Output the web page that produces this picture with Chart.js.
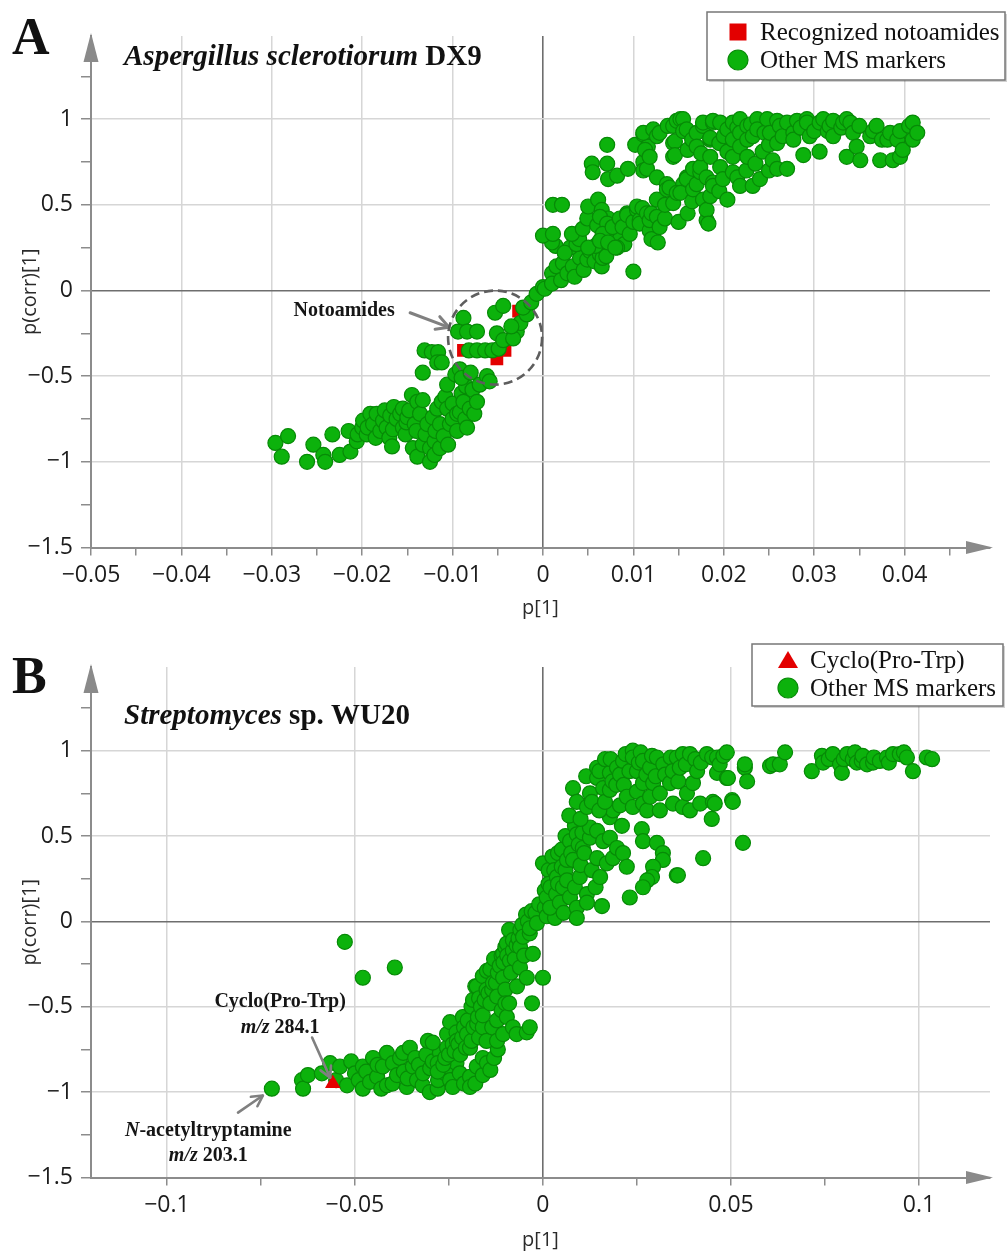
<!DOCTYPE html>
<html><head><meta charset="utf-8">
<script src="https://cdn.jsdelivr.net/npm/chart.js@4.4.1/dist/chart.umd.min.js"></script>
<style>
html,body{margin:0;padding:0;background:#fff;}
#wrap{position:relative;width:1008px;height:1253px;overflow:hidden;}
canvas{position:absolute;left:0;}
#ca{top:0;} #cb{top:626px;}
</style></head><body>
<div id="wrap"><canvas id="ca" width="1008" height="626"></canvas><canvas id="cb" width="1008" height="627"></canvas></div>
<script>
// ---------------- DATA ----------------
const aOther = [
[-0.0296,-0.89],[-0.0282,-0.85],[-0.0289,-0.97],[-0.0261,-1.0],[-0.0254,-0.90],[-0.0233,-0.84],[-0.0243,-0.96],[-0.0241,-1.0],[-0.0225,-0.96],[-0.0213,-0.94],[-0.0215,-0.82],[-0.0206,-0.88],[-0.0205,-0.84],[-0.0200,-0.80],[-0.0199,-0.76],[-0.0195,-0.84],[-0.0194,-0.80],[-0.0191,-0.72],[-0.0188,-0.78],[-0.0185,-0.86],[-0.0184,-0.72],[-0.0180,-0.82],[-0.0177,-0.76],[-0.0175,-0.70],[-0.0173,-0.80],[-0.0170,-0.86],[-0.0169,-0.73],[-0.0167,-0.91],[-0.0166,-0.81],[-0.0165,-0.68],[-0.0162,-0.75],[-0.0158,-0.72],[-0.0155,-0.69],[-0.0155,-0.80],[-0.0152,-0.84],[-0.0151,-0.77],[-0.0150,-0.74],[-0.0148,-0.70],[-0.0145,-0.61],[-0.0144,-0.92],[-0.0142,-0.78],[-0.0140,-0.82],[-0.0139,-0.65],[-0.0139,-0.97],[-0.0136,-0.72],[-0.0133,-0.64],[-0.0133,-0.90],[-0.0130,-0.84],[-0.0128,-0.78],[-0.0125,-1.0],[-0.0125,-0.92],[-0.0122,-0.74],[-0.0120,-0.88],[-0.0120,-0.96],[-0.0119,-0.82],[-0.0117,-0.69],[-0.0114,-0.92],[-0.0114,-0.78],[-0.0112,-0.65],[-0.0110,-0.85],[-0.0108,-0.62],[-0.0106,-0.69],[-0.0105,-0.90],[-0.0103,-0.78],[-0.0100,-0.75],[-0.0100,-0.66],[-0.0095,-0.82],[-0.0095,-0.72],[-0.0092,-0.71],[-0.0090,-0.60],[-0.0088,-0.65],[-0.0086,-0.75],[-0.0085,-0.56],[-0.0084,-0.80],[-0.0081,-0.69],[-0.0078,-0.58],[-0.0076,-0.72],[-0.0073,-0.65],
[-0.0133,-0.48],[-0.0106,-0.55],[-0.0097,-0.49],[-0.0092,-0.46],[-0.0090,-0.51],[-0.0080,-0.48],[-0.0070,-0.55],[-0.0062,-0.50],[-0.0059,-0.53],[-0.0131,-0.35],[-0.0123,-0.36],[-0.0116,-0.36],[-0.0117,-0.42],[-0.0112,-0.42],
[-0.0088,-0.16],[-0.0094,-0.24],[-0.0084,-0.24],[-0.0073,-0.24],[-0.0082,-0.35],[-0.0073,-0.35],[-0.0064,-0.35],[-0.0056,-0.35],[-0.0049,-0.34],[-0.0051,-0.25],[-0.0044,-0.29],[-0.0053,-0.13],[-0.0044,-0.09],[-0.0029,-0.24],[-0.0033,-0.28],[-0.0025,-0.19],[-0.0018,-0.14],[-0.0022,-0.10],[-0.0013,-0.07],[-0.0035,-0.21],[-0.0007,-0.02],[0.0,0.02],
[0.0002,0.01],[0.0010,0.10],[0.0010,0.04],[0.0015,0.14],[0.0020,0.06],[0.0022,0.16],[0.0027,0.10],[0.0033,0.14],[0.0035,0.08],[0.0041,0.19],[0.0045,0.12],[0.0049,0.18],[0.0052,0.23],[0.0057,0.17],[0.0063,0.21],[0.0065,0.14],[0.0066,0.19],[0.0070,0.20],[0.0030,0.25],[0.0014,0.26],[0.0024,0.22],[0.0037,0.27],[0.0058,0.26],[0.0080,0.31],[0.0085,0.30],[0.0090,0.27],[0.0010,0.28],[0.0040,0.30],[0.0050,0.25],
[0.0,0.32],[0.0011,0.33],[0.0032,0.33],[0.0044,0.36],[0.0049,0.42],[0.0050,0.49],[0.0061,0.53],[0.0060,0.38],[0.0065,0.47],[0.0072,0.42],[0.0063,0.43],[0.0071,0.39],[0.0066,0.33],[0.0063,0.29],[0.0072,0.28],[0.0082,0.25],[0.0080,0.25],[0.0077,0.37],[0.0085,0.42],[0.0088,0.37],[0.0093,0.45],[0.0093,0.44],[0.0096,0.33],[0.0100,0.40],[0.0104,0.47],[0.0104,0.49],[0.0107,0.41],[0.0107,0.39],[0.0110,0.48],[0.0115,0.45],[0.0118,0.35],[0.0118,0.41],[0.0120,0.30],[0.0120,0.45],[0.0126,0.43],[0.0126,0.53],[0.0129,0.37],[0.0127,0.28],[0.0135,0.42],[0.0100,0.11],[0.0011,0.50],[0.0021,0.50],
[0.0054,0.74],[0.0055,0.69],[0.0071,0.74],[0.0072,0.65],[0.0082,0.67],[0.0094,0.71],[0.0071,0.85],[0.0102,0.85],[0.0111,0.91],[0.0116,0.84],[0.0111,0.75],[0.0111,0.70],[0.0111,0.92],[0.0113,0.82],[0.0115,0.71],[0.0118,0.78],[0.0122,0.94],[0.0126,0.90],[0.0129,0.92],[0.0126,0.66],[0.0135,0.50],[0.0137,0.62],[0.0137,0.59],[0.0140,0.60],[0.0144,0.78],[0.0144,0.86],[0.0146,0.87],[0.0146,0.79],[0.0138,0.96],[0.0144,0.96],[0.0148,0.99],[0.0152,1.0],[0.0155,1.0],[0.0155,0.93],[0.0155,0.62],[0.0159,0.94],[0.0160,0.82],[0.0144,0.51],[0.0148,0.57],[0.0150,0.40],[0.0152,0.57],[0.0159,0.66],[0.0159,0.65],[0.0160,0.45],[0.0165,0.52],[0.0165,0.88],[0.0166,0.71],[0.0166,0.59],[0.0170,0.62],[0.0170,0.92],[0.0170,0.84],[0.0174,0.69],[0.0174,0.72],[0.0175,0.80],[0.0177,0.96],[0.0177,0.98],[0.0177,0.53],[0.0181,0.41],[0.0181,0.47],[0.0183,0.39],[0.0181,0.66],[0.0185,0.88],[0.0185,0.89],[0.0185,0.78],[0.0185,0.55],[0.0188,0.98],[0.0188,0.99],[0.0188,0.63],[0.0188,0.61],
[0.0195,0.86],[0.0195,0.58],[0.0196,0.98],[0.0196,0.72],[0.0199,0.65],[0.0200,0.90],[0.0204,0.94],[0.0204,0.53],[0.0204,0.81],[0.0210,0.98],[0.0210,0.88],[0.0210,0.78],[0.0210,0.69],[0.0215,0.95],[0.0215,0.66],[0.0218,1.0],[0.0218,0.92],[0.0218,0.84],[0.0218,0.61],[0.0225,0.70],[0.0226,0.96],[0.0226,0.88],[0.0226,0.78],[0.0230,0.97],[0.0232,0.90],[0.0232,0.61],[0.0235,0.74],[0.0237,1.0],[0.0237,0.94],[0.0240,0.65],[0.0243,0.81],[0.0245,0.92],[0.0248,1.0],[0.0250,0.85],[0.0250,0.70],[0.0251,0.92],[0.0254,0.76],[0.0259,0.99],[0.0259,0.86],[0.0259,0.71],[0.0262,0.96],[0.0265,0.90],[0.0270,0.98],[0.0270,0.71],[0.0277,0.92],[0.0277,0.88],[0.0281,0.99],[0.0285,0.95],[0.0288,0.79],[0.0292,1.0],[0.0292,0.98],[0.0295,0.90],[0.0300,0.93],[0.0306,0.98],[0.0306,0.81],[0.0310,1.0],[0.0315,0.93],[0.0317,0.96],[0.0321,0.99],[0.0321,0.90],[0.0330,0.95],[0.0332,0.98],[0.0336,1.0],[0.0336,0.78],[0.0340,0.98],[0.0343,0.92],[0.0347,0.84],[0.0350,0.96],[0.0351,0.76],[0.0362,0.90],[0.0365,0.93],[0.0369,0.96],[0.0373,0.76],[0.0375,0.88],[0.0381,0.88],[0.0384,0.92],[0.0387,0.76],[0.0392,0.88],[0.0395,0.78],[0.0395,0.93],[0.0398,0.82],[0.0405,0.96],[0.0409,0.98],[0.0409,0.88],[0.0414,0.92]
];
const aNoto = [[-0.0088,-0.35],[-0.0042,-0.35],[-0.0051,-0.40],[-0.0027,-0.12]];

const bOther = [
[-0.0721,-0.98],[-0.0641,-0.93],[-0.0638,-0.98],[-0.0625,-0.90],[-0.0588,-0.89],[-0.0566,-0.83],[-0.0550,-0.93],[-0.0540,-0.85],[-0.0521,-0.96],[-0.0510,-0.82],[-0.0500,-0.89],[-0.0490,-0.93],[-0.0479,-0.85],[-0.0479,-0.98],[-0.0470,-0.88],[-0.0460,-0.94],[-0.0452,-0.80],[-0.0441,-0.91],[-0.0440,-0.84],[-0.0430,-0.98],[-0.0426,-0.85],[-0.0415,-0.77],[-0.0415,-0.96],[-0.0400,-0.95],[-0.0399,-0.83],[-0.0388,-0.90],[-0.0380,-0.80],[-0.0372,-0.77],[-0.0370,-0.88],[-0.0362,-0.97],[-0.0360,-0.92],[-0.0354,-0.74],[-0.0346,-0.85],[-0.0340,-0.80],[-0.0335,-0.93],[-0.0330,-0.84],[-0.0320,-0.96],[-0.0319,-0.89],[-0.0310,-0.78],[-0.0301,-1.0],[-0.0300,-0.86],[-0.0293,-0.82],[-0.0280,-0.98],[-0.0279,-0.93],[-0.0274,-0.77],[-0.0260,-0.89],[-0.0255,-0.85],[-0.0247,-0.93],[-0.0240,-0.97],[-0.0230,-0.83],[-0.0221,-0.89],[-0.0210,-0.95],[-0.0194,-0.91],[-0.0194,-0.97],[-0.0180,-0.95],[-0.0176,-0.85],[-0.0160,-0.90],[-0.0160,-0.80],[-0.0149,-0.83],[-0.0140,-0.87],[-0.0130,-0.80],[-0.0120,-0.75],
[-0.0527,-0.12],[-0.0479,-0.33],[-0.0394,-0.27],
[-0.0306,-0.70],[-0.0293,-0.71],[-0.0280,-0.83],[-0.0280,-0.88],[-0.0265,-0.84],[-0.0260,-0.80],[-0.0255,-0.74],[-0.0255,-0.66],[-0.0250,-0.78],[-0.0247,-0.59],[-0.0240,-0.72],[-0.0235,-0.76],[-0.0230,-0.65],[-0.0229,-0.70],[-0.0225,-0.72],[-0.0220,-0.78],[-0.0215,-0.68],[-0.0213,-0.56],[-0.0210,-0.62],[-0.0205,-0.74],[-0.0202,-0.66],[-0.0200,-0.58],[-0.0194,-0.74],[-0.0190,-0.70],[-0.0190,-0.50],[-0.0186,-0.46],[-0.0185,-0.62],[-0.0180,-0.38],[-0.0176,-0.38],[-0.0175,-0.60],[-0.0173,-0.56],[-0.0170,-0.68],[-0.0170,-0.45],[-0.0165,-0.50],[-0.0160,-0.62],[-0.0160,-0.55],[-0.0160,-0.32],[-0.0155,-0.46],[-0.0150,-0.40],[-0.0150,-0.70],[-0.0149,-0.29],[-0.0145,-0.42],[-0.0140,-0.48],[-0.0140,-0.28],[-0.0135,-0.40],[-0.0135,-0.62],[-0.0133,-0.36],[-0.0130,-0.22],[-0.0125,-0.36],[-0.0122,-0.58],[-0.0122,-0.70],[-0.0122,-0.44],[-0.0120,-0.30],[-0.0115,-0.26],[-0.0110,-0.20],[-0.0110,-0.52],[-0.0106,-0.66],[-0.0106,-0.33],[-0.0106,-0.19],[-0.0105,-0.24],[-0.0100,-0.40],[-0.0100,-0.48],[-0.0100,-0.15],[-0.0096,-0.56],[-0.0096,-0.13],[-0.0095,-0.20],[-0.0090,-0.48],[-0.0090,-0.05],[-0.0088,-0.23],[-0.0085,-0.30],[-0.0080,-0.62],[-0.0080,-0.17],[-0.0080,-0.11],[-0.0075,-0.22],[-0.0070,-0.66],[-0.0070,-0.14],[-0.0069,-0.38],[-0.0065,-0.10],[-0.0061,-0.27],[-0.0061,-0.15],[-0.0060,-0.05],[-0.0055,-0.02],[-0.0053,-0.09],[-0.0050,-0.20],[-0.0045,0.04],[-0.0043,-0.33],[-0.0043,-0.65],[-0.0040,0.0],[-0.0035,-0.07],[-0.0035,-0.62],[-0.0035,-0.04],[-0.0030,0.06],[-0.0029,-0.48],[-0.0027,-0.19],[-0.0020,0.05],[-0.0016,-0.01],[-0.0010,0.10],[0.0,-0.33],[0.0005,0.08],[0.0005,0.18],[0.0010,0.03],[0.0019,0.11],[0.0025,0.12],[0.0032,0.02],
[0.0,0.34],[0.0010,0.14],[0.0015,0.30],[0.0019,0.08],[0.0015,0.22],[0.0020,0.20],[0.0025,0.38],[0.0030,0.30],[0.0035,0.16],[0.0037,0.26],[0.0040,0.40],[0.0040,0.22],[0.0045,0.11],[0.0050,0.32],[0.0050,0.42],[0.0053,0.20],[0.0055,0.05],[0.0060,0.30],[0.0060,0.50],[0.0064,0.24],[0.0064,0.36],[0.0072,0.14],[0.0072,0.47],[0.0075,0.40],[0.0080,0.36],[0.0085,0.20],[0.0085,0.56],[0.0090,0.08],[0.0090,0.02],[0.0090,0.51],[0.0095,0.45],[0.0098,0.26],[0.0100,0.33],[0.0105,0.52],[0.0106,0.43],[0.0110,0.40],[0.0117,0.16],[0.0117,0.11],[0.0125,0.49],[0.0125,0.55],[0.0130,0.30],[0.0140,0.20],[0.0144,0.37],[0.0144,0.53],[0.0152,0.26],[0.0157,0.09],[0.0160,0.47],[0.0170,0.34],[0.0178,0.49],[0.0186,0.37],[0.0197,0.43],[0.0213,0.40],[0.0223,0.32],[0.0231,0.14],[0.0178,0.61],[0.0186,0.65],[0.0210,0.56],[0.0263,0.54],[0.0266,0.47],[0.0303,0.46],[0.0319,0.40],[0.0319,0.36],[0.0293,0.32],[0.0290,0.26],[0.0277,0.24],[0.0266,0.20],[0.0356,0.27],[0.0359,0.27],[0.0426,0.37],[0.0532,0.46],
[0.0070,0.62],[0.0080,0.78],[0.0090,0.70],[0.0100,0.60],[0.0115,0.85],[0.0117,0.67],[0.0125,0.75],[0.0130,0.70],[0.0144,0.90],[0.0144,0.84],[0.0150,0.65],[0.0150,0.88],[0.0160,0.78],[0.0165,0.70],[0.0165,0.95],[0.0178,0.77],[0.0178,0.87],[0.0180,0.95],[0.0185,0.82],[0.0195,0.80],[0.0197,0.90],[0.0205,0.68],[0.0205,0.86],[0.0213,0.94],[0.0215,0.80],[0.0220,0.98],[0.0223,0.73],[0.0230,0.88],[0.0239,1.0],[0.0239,0.96],[0.0239,0.67],[0.0250,0.88],[0.0250,0.76],[0.0255,0.93],[0.0260,0.99],[0.0266,0.94],[0.0266,0.69],[0.0266,0.81],[0.0275,0.86],[0.0277,0.65],[0.0285,0.90],[0.0285,0.73],[0.0290,0.97],[0.0293,0.81],[0.0300,0.85],[0.0303,0.96],[0.0311,0.75],[0.0311,0.65],[0.0320,0.92],[0.0325,0.86],[0.0338,0.81],[0.0340,0.96],[0.0345,0.88],[0.0346,0.69],[0.0356,0.96],[0.0360,0.82],[0.0364,0.90],[0.0372,0.98],[0.0372,0.67],[0.0380,0.92],[0.0383,0.75],[0.0391,0.98],[0.0391,0.65],[0.0399,0.81],[0.0405,0.95],[0.0410,0.88],[0.0418,0.69],[0.0420,0.93],[0.0436,0.98],[0.0449,0.60],[0.0450,0.96],[0.0452,0.70],[0.0457,0.69],[0.0463,0.96],[0.0463,0.87],[0.0470,0.92],[0.0480,0.97],[0.0489,0.99],[0.0489,0.84],[0.0492,0.84],[0.0503,0.71],[0.0505,0.70],[0.0537,0.90],[0.0537,0.92],[0.0543,0.82],
[0.0604,0.91],[0.0612,0.92],[0.0630,0.92],[0.0644,0.99],[0.0715,0.88],[0.0742,0.97],[0.0745,0.93],[0.0760,0.95],[0.0771,0.98],[0.0790,0.92],[0.0795,0.87],[0.0800,0.95],[0.0809,0.98],[0.0824,0.95],[0.0830,0.99],[0.0835,0.93],[0.0848,0.94],[0.0850,0.97],[0.0862,0.92],[0.0878,0.93],[0.0880,0.96],[0.0896,0.94],[0.0915,0.96],[0.0920,0.93],[0.0931,0.98],[0.0949,0.98],[0.0960,0.99],[0.0968,0.96],[0.0984,0.88],[0.1021,0.96],[0.1035,0.95]
];
const bCyclo = [[-0.0559,-0.95]];

const aXTicks = [-0.05,-0.045,-0.04,-0.035,-0.03,-0.025,-0.02,-0.015,-0.01,-0.005,0,0.005,0.01,0.015,0.02,0.025,0.03,0.035,0.04,0.045];
const aXLabels = [-0.05,-0.04,-0.03,-0.02,-0.01,0,0.01,0.02,0.03,0.04];
const bXTicks = [-0.1,-0.075,-0.05,-0.025,0,0.025,0.05,0.075,0.1];
const bXLabels = [-0.1,-0.05,0,0.05,0.1];
const yTicks = [-1.5,-1.25,-1,-0.75,-0.5,-0.25,0,0.25,0.5,0.75,1,1.25];
const yLabels = [-1.5,-1,-0.5,0,0.5,1];

// ---------------- STYLE / HELPERS ----------------
const SERIF = '"Liberation Serif","Times New Roman",serif';
const SANS = '"Open Sans","Noto Sans",sans-serif';
const GREEN = '#0cb20c', GREEN_B = '#078a07', RED = '#e30000';
const has = (arr, v) => arr.some(a => Math.abs(a - v) < 1e-9);
const fmt = v => (v < 0 ? '\u2212' : '') + parseFloat(Math.abs(v).toFixed(4)).toString();
const pts = arr => arr.map(([x, y]) => ({x, y}));

function richWidth(ctx, segs) {
  let w = 0; segs.forEach(s => { ctx.font = s.f; w += ctx.measureText(s.t).width; }); return w;
}
function drawRich(ctx, segs, x, y, align) {
  let w = richWidth(ctx, segs);
  let cx = align === 'center' ? x - w / 2 : x;
  ctx.textBaseline = 'alphabetic'; ctx.textAlign = 'left';
  segs.forEach(s => { ctx.font = s.f; ctx.fillText(s.t, cx, y); cx += ctx.measureText(s.t).width; });
}
function arrowLine(ctx, x1, y1, x2, y2, w, head) {
  ctx.save();
  ctx.strokeStyle = '#808080'; ctx.lineWidth = w; ctx.lineCap = 'round'; ctx.lineJoin = 'round';
  ctx.beginPath(); ctx.moveTo(x1, y1); ctx.lineTo(x2, y2); ctx.stroke();
  const a = Math.atan2(y2 - y1, x2 - x1);
  ctx.beginPath();
  ctx.moveTo(x2 - head * Math.cos(a - 0.5), y2 - head * Math.sin(a - 0.5));
  ctx.lineTo(x2, y2);
  ctx.lineTo(x2 - head * Math.cos(a + 0.5), y2 - head * Math.sin(a + 0.5));
  ctx.stroke();
  ctx.restore();
}
function legendSymbol(ctx, kind, x, y) {
  ctx.save();
  if (kind === 'rect') { ctx.fillStyle = RED; ctx.fillRect(x - 8.5, y - 8.5, 17, 17); }
  else if (kind === 'tri') { ctx.fillStyle = RED; ctx.beginPath(); ctx.moveTo(x, y - 9); ctx.lineTo(x + 10, y + 8); ctx.lineTo(x - 10, y + 8); ctx.closePath(); ctx.fill(); }
  else { ctx.fillStyle = GREEN; ctx.strokeStyle = GREEN_B; ctx.lineWidth = 1.2; ctx.beginPath(); ctx.arc(x, y, 10, 0, Math.PI * 2); ctx.fill(); ctx.stroke(); }
  ctx.restore();
}

const decor = {
  id: 'decor',
  afterDraw(chart, args, o) {
    const ctx = chart.ctx, ca = chart.chartArea, xs = chart.scales.x, ys = chart.scales.y;
    ctx.save();
    ctx.fillStyle = '#8a8a8a';
    ctx.beginPath(); ctx.moveTo(ca.left, ca.top - 3); ctx.lineTo(ca.left - 7.5, ca.top + 26); ctx.lineTo(ca.left + 7.5, ca.top + 26); ctx.closePath(); ctx.fill();
    ctx.beginPath(); ctx.moveTo(ca.right + 3, ca.bottom); ctx.lineTo(ca.right - 24, ca.bottom - 6.5); ctx.lineTo(ca.right - 24, ca.bottom + 6.5); ctx.closePath(); ctx.fill();
    ctx.fillStyle = '#111';
    drawRich(ctx, [{t: o.letter, f: 'bold 52px ' + SERIF}], 12, o.letterY, 'left');
    drawRich(ctx, o.title, 124, o.titleY, 'left');
    const L = o.legend;
    ctx.fillStyle = 'rgba(0,0,0,0.18)'; ctx.fillRect(L.x + 2, L.y + 2, L.w, L.h);
    ctx.fillStyle = '#fff'; ctx.fillRect(L.x, L.y, L.w, L.h);
    ctx.strokeStyle = '#777'; ctx.lineWidth = 1.5; ctx.strokeRect(L.x, L.y, L.w, L.h);
    L.items.forEach((it, i) => {
      const yy = L.y + L.first + i * L.step;
      legendSymbol(ctx, it.sym, L.x + L.symX, yy);
      ctx.fillStyle = '#111'; ctx.font = '25px ' + SERIF; ctx.textBaseline = 'middle'; ctx.textAlign = 'left';
      ctx.fillText(it.text, L.x + L.textX, yy + 1);
    });
    (o.notes || []).forEach(n => {
      ctx.fillStyle = '#151515';
      n.lines.forEach((segs, i) => drawRich(ctx, segs, xs.getPixelForValue(n.x), ys.getPixelForValue(n.y) + i * n.lh, 'center'));
    });
    (o.arrows || []).forEach(a => arrowLine(ctx, xs.getPixelForValue(a.x1), ys.getPixelForValue(a.y1), xs.getPixelForValue(a.x2), ys.getPixelForValue(a.y2), a.w, a.head));
    if (o.circle) {
      ctx.save(); ctx.strokeStyle = '#5e5e5e'; ctx.lineWidth = 2.6; ctx.setLineDash([9, 5]);
      ctx.beginPath(); ctx.arc(xs.getPixelForValue(o.circle.x), ys.getPixelForValue(o.circle.y), o.circle.r, 0, Math.PI * 2); ctx.stroke(); ctx.restore();
    }
    ctx.restore();
  }
};

function xScale(min, max, ticks, labels, h, tpad) {
  return {
    type: 'linear', position: 'bottom', min, max,
    afterBuildTicks: s => { s.ticks = ticks.map(v => ({value: v})); },
    afterFit: s => { s.height = h; },
    ticks: { autoSkip: false, maxRotation: 0, minRotation: 0, padding: 6, color: '#1c1c1c',
      font: {family: SANS, size: 23}, callback: v => has(labels, v) ? fmt(v) : '' },
    grid: { color: c => (c.tick && Math.abs(c.tick.value) < 1e-12) ? '#6e6e6e' : (c.tick && has(labels, c.tick.value) ? '#d6d6d6' : 'rgba(0,0,0,0)'),
      lineWidth: c => (c.tick && Math.abs(c.tick.value) < 1e-12) ? 1.6 : 1.5,
      tickColor: '#8c8c8c', tickLength: 8, tickWidth: 1.5 },
    border: { display: true, color: '#8c8c8c', width: 2 },
    title: { display: true, text: 'p[1]', color: '#2a2a2a', font: {family: SANS, size: 20}, padding: {top: 0, bottom: tpad} }
  };
}
function yScale(min, max) {
  return {
    type: 'linear', position: 'left', min, max,
    afterBuildTicks: s => { s.ticks = yTicks.map(v => ({value: v})); },
    afterFit: s => { s.width = 91; },
    ticks: { autoSkip: false, padding: 8, color: '#1c1c1c', font: {family: SANS, size: 23},
      callback: v => has(yLabels, v) ? fmt(v) : '' },
    grid: { color: c => (c.tick && Math.abs(c.tick.value) < 1e-12) ? '#6e6e6e' : (c.tick && has(yLabels, c.tick.value) ? '#d6d6d6' : 'rgba(0,0,0,0)'),
      lineWidth: c => (c.tick && Math.abs(c.tick.value) < 1e-12) ? 1.6 : 1.5,
      tickColor: '#8c8c8c', tickLength: 10, tickWidth: 1.5 },
    border: { display: true, color: '#8c8c8c', width: 2 },
    title: { display: true, text: 'p(corr)[1]', color: '#2a2a2a', font: {family: SANS, size: 20}, padding: {top: 18, bottom: 0} }
  };
}
const greenDs = (data, order) => ({ label: 'Other MS markers', data: pts(data), pointStyle: 'circle', pointRadius: 7.5, pointBorderWidth: 1.2,
  backgroundColor: GREEN, borderColor: GREEN_B, order });

Chart.defaults.font.family = SANS;

new Chart(document.getElementById('ca'), {
  type: 'scatter',
  data: { datasets: [
    greenDs(aOther, 0),
    { label: 'Recognized notoamides', data: pts(aNoto), pointStyle: 'rect', pointRadius: 9, pointBorderWidth: 0, backgroundColor: RED, borderColor: RED, order: 1 }
  ]},
  options: {
    responsive: false, animation: false, events: [],
    layout: { padding: { top: 36, right: 18, left: 0, bottom: 0 } },
    scales: { x: xScale(-0.05, 0.04945, aXTicks, aXLabels, 78.5, 6), y: yScale(-1.5, 1.485) },
    plugins: { legend: {display: false}, tooltip: {enabled: false},
      decor: {
        letter: 'A', letterY: 54, titleY: 65,
        title: [{t: 'Aspergillus sclerotiorum', f: 'italic bold 29px ' + SERIF}, {t: ' DX9', f: 'bold 29px ' + SERIF}],
        legend: { x: 707, y: 12, w: 298, h: 68, symX: 31, textX: 53, first: 20, step: 28,
          items: [{sym: 'rect', text: 'Recognized notoamides'}, {sym: 'circle', text: 'Other MS markers'}] },
        notes: [{ x: -0.0220, y: -0.149, lh: 0, lines: [[{t: 'Notoamides', f: 'bold 20px ' + SERIF}]] }],
        arrows: [{ x1: -0.0147, y1: -0.13, x2: -0.0104, y2: -0.215, w: 3, head: 14 }],
        circle: { x: -0.0053, y: -0.275, r: 47 }
      } }
  },
  plugins: [decor]
});

new Chart(document.getElementById('cb'), {
  type: 'scatter',
  data: { datasets: [
    { label: 'Cyclo(Pro-Trp)', data: pts(bCyclo), pointStyle: 'triangle', pointRadius: 9, pointBorderWidth: 0, backgroundColor: RED, borderColor: RED, order: 0 },
    greenDs(bOther, 1)
  ]},
  options: {
    responsive: false, animation: false, events: [],
    layout: { padding: { top: 41, right: 18, left: 0, bottom: 0 } },
    scales: { x: xScale(-0.1202, 0.1189, bXTicks, bXLabels, 75.5, 1), y: yScale(-1.5, 1.49) },
    plugins: { legend: {display: false}, tooltip: {enabled: false},
      decor: {
        letter: 'B', letterY: 67, titleY: 98,
        title: [{t: 'Streptomyces', f: 'italic bold 29px ' + SERIF}, {t: ' sp. WU20', f: 'bold 29px ' + SERIF}],
        legend: { x: 752, y: 18, w: 251, h: 62, symX: 36, textX: 58, first: 16, step: 28,
          items: [{sym: 'tri', text: 'Cyclo(Pro-Trp)'}, {sym: 'circle', text: 'Other MS markers'}] },
        notes: [
          { x: -0.0699, y: -0.50, lh: 26, lines: [[{t: 'Cyclo(Pro-Trp)', f: 'bold 20px ' + SERIF}], [{t: 'm/z', f: 'italic bold 20px ' + SERIF}, {t: ' 284.1', f: 'bold 20px ' + SERIF}]] },
          { x: -0.0890, y: -1.256, lh: 25, lines: [[{t: 'N', f: 'italic bold 20px ' + SERIF}, {t: '-acetyltryptamine', f: 'bold 20px ' + SERIF}], [{t: 'm/z', f: 'italic bold 20px ' + SERIF}, {t: ' 203.1', f: 'bold 20px ' + SERIF}]] }
        ],
        arrows: [
          { x1: -0.0614, y1: -0.68, x2: -0.0566, y2: -0.915, w: 2.6, head: 12 },
          { x1: -0.0811, y1: -1.12, x2: -0.0745, y2: -1.02, w: 2.6, head: 12 }
        ]
      } }
  },
  plugins: [decor]
});
</script>
</body></html>
